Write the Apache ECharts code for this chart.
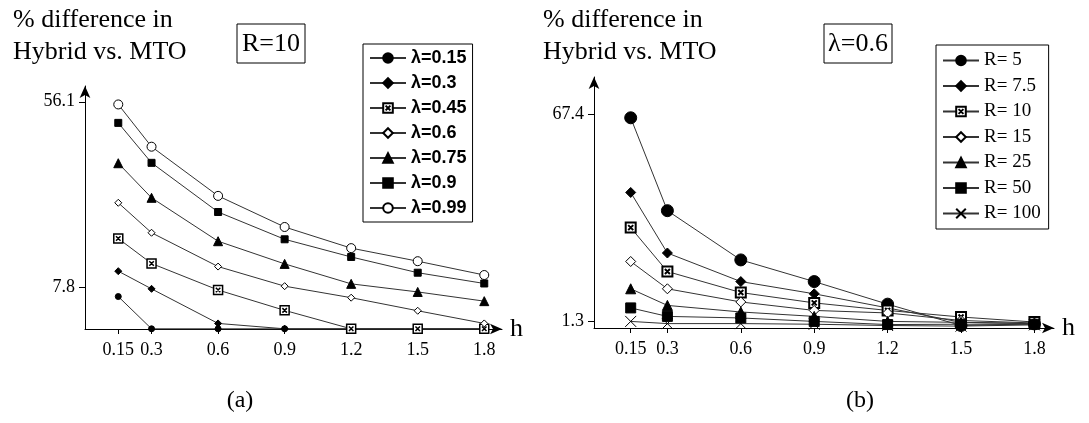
<!DOCTYPE html>
<html><head><meta charset="utf-8">
<script src="https://cdn.jsdelivr.net/npm/echarts@6/dist/echarts.min.js"></script>
<style>html,body{margin:0;padding:0;background:#fff}#c{width:1089px;height:423px}</style>
</head><body><div id="c"></div>
<script>
// ---- data ----
const hValues = [0.15, 0.3, 0.6, 0.9, 1.2, 1.5, 1.8];
const leftYTicks = [56.1, 7.8];
const rightYTicks = [67.4, 1.3];

const leftNames = ['λ=0.15', 'λ=0.3', 'λ=0.45', 'λ=0.6', 'λ=0.75', 'λ=0.9', 'λ=0.99'];
const lam015 = [5.4, -3.0, -3.0, -3.0, -3.0, -3.0, -3.0];
const lam030 = [12.0, 7.4, -1.6, -3.0, -3.0, -3.0, -3.0];
const lam045 = [20.5, 14.0, 7.1, 1.8, -3.0, -3.0, -3.0];
const lam060 = [29.8, 22.0, 13.2, 8.1, 5.1, 1.7, -1.6];
const lam075 = [40.1, 31.1, 19.8, 13.9, 8.7, 6.6, 4.2];
const lam090 = [50.6, 40.2, 27.4, 20.3, 15.7, 11.6, 8.8];
const lam099 = [55.4, 44.4, 31.6, 23.5, 18.0, 14.6, 11.0];

const rightNames = ['R= 5', 'R= 7.5', 'R= 10', 'R= 15', 'R= 25', 'R= 50', 'R= 100'];
const r5 = [66.2, 36.6, 20.9, 14.0, 6.8, 0.0, 0.5];
const r7_5 = [42.4, 23.1, 14.0, 10.1, 5.6, 1.0, 0.6];
const r10 = [31.2, 17.2, 10.5, 7.2, 4.8, 2.7, 1.1];
const r15 = [20.4, 11.7, 7.5, 4.8, 4.0, 1.6, 0.8];
const r25 = [11.7, 6.4, 4.3, 2.9, 1.3, 1.0, 0.6];
const r50 = [5.6, 2.9, 2.4, 1.3, 0.3, 0.4, 0.4];
const r100 = [1.3, 0.6, 0.6, 0.4, 0.0, -0.2, 0.2];

// ---- styles ----
const SERIF = '"Liberation Serif", "DejaVu Serif", serif';
const SANS = '"Liberation Sans Narrow", "Liberation Sans", Arial, sans-serif';
const LINE = '#333';
const boxX = 'path://M0,0L10,0L10,10L0,10Z M2.5,2.5L7.5,7.5 M7.5,2.5L2.5,7.5';
const cross = 'path://M0,0L10,10M10,0L0,10';

function mk(name, arr, grid, symbol, size, fill, extra) {
  return Object.assign({
    name: name, type: 'line', xAxisIndex: grid, yAxisIndex: grid,
    data: hValues.map((h, i) => [h, arr[i]]),
    symbol: symbol, symbolSize: size, showSymbol: true,
    lineStyle: { color: LINE, width: 1 },
    itemStyle: { color: fill, borderColor: '#000', borderWidth: 1 },
    emphasis: { disabled: true }, silent: true, clip: false
  }, extra || {});
}

const series = [
  mk(leftNames[0], lam015, 0, 'circle', 6, '#000'),
  mk(leftNames[1], lam030, 0, 'diamond', 7, '#000'),
  mk(leftNames[2], lam045, 0, boxX, 9, '#fff', { itemStyle: { color: '#fff', borderColor: '#000', borderWidth: 1.5 } }),
  mk(leftNames[3], lam060, 0, 'diamond', 7, '#fff'),
  mk(leftNames[4], lam075, 0, 'triangle', 9, '#000'),
  mk(leftNames[5], lam090, 0, 'rect', 7, '#000'),
  mk(leftNames[6], lam099, 0, 'circle', 9, '#fff'),
  mk(rightNames[0], r5, 1, 'circle', 12, '#000'),
  mk(rightNames[1], r7_5, 1, 'diamond', 10, '#000'),
  mk(rightNames[2], r10, 1, boxX, 10, '#fff', { itemStyle: { color: '#fff', borderColor: '#000', borderWidth: 2 } }),
  mk(rightNames[3], r15, 1, 'diamond', 10, '#fff'),
  mk(rightNames[4], r25, 1, 'triangle', 10, '#000'),
  mk(rightNames[5], r50, 1, 'rect', 10, '#000'),
  mk(rightNames[6], r100, 1, cross, 11, 'none', { itemStyle: { color: 'none', borderColor: '#000', borderWidth: 1 } })
];

function xAx(grid, max) {
  return {
    gridIndex: grid, type: 'value', min: 0, max: max,
    name: 'h', nameLocation: 'end', nameGap: 8,
    nameTextStyle: { fontFamily: SERIF, fontSize: 26, color: '#000' },
    axisLine: { onZero: false, symbol: ['none', 'arrow'], symbolSize: [8, 12], lineStyle: { color: '#000', width: 1 } },
    axisTick: { customValues: hValues, length: 5, lineStyle: { color: '#000' } },
    axisLabel: { customValues: hValues, formatter: v => String(v), fontFamily: SERIF, fontSize: 18, color: '#000', margin: 12 },
    splitLine: { show: false }
  };
}
function yAx(grid, min, max, ticks) {
  return {
    gridIndex: grid, type: 'value', min: min, max: max,
    axisLine: { show: true, onZero: false, symbol: ['none', 'arrow'], symbolSize: [8, 12], lineStyle: { color: '#000', width: 1 } },
    axisTick: { show: true, customValues: ticks, length: 6, lineStyle: { color: '#000' } },
    axisLabel: { customValues: ticks, formatter: v => v.toFixed(1), fontFamily: SERIF, fontSize: 18, color: '#000', margin: 10 },
    splitLine: { show: false }
  };
}

const option = {
  animation: false,
  backgroundColor: '#fff',
  grid: [
    { left: 85, top: 86, width: 417, height: 243 },
    { left: 594, top: 77, width: 460, height: 251 }
  ],
  xAxis: [xAx(0, 1.88), xAx(1, 1.88)],
  yAxis: [yAx(0, -3.05, 60.2, leftYTicks), yAx(1, -0.8, 79.2, rightYTicks)],
  legend: [
    {
      data: leftNames, left: 363, top: 44, orient: 'vertical',
      borderColor: '#000', borderWidth: 1, padding: [5, 6, 5, 6],
      itemWidth: 36, itemHeight: 12, itemGap: 7, selectedMode: false,
      textStyle: { fontFamily: SANS, fontSize: 18, fontWeight: 'bold', color: '#000', lineHeight: 18 }
    },
    {
      data: rightNames, left: 936, top: 45, orient: 'vertical',
      borderColor: '#000', borderWidth: 1, padding: [6, 8, 6, 6],
      itemWidth: 36, itemHeight: 12, itemGap: 6.5, selectedMode: false,
      textStyle: { fontFamily: SERIF, fontSize: 19, color: '#000', lineHeight: 18 }
    }
  ],
  graphic: [
    { type: 'text', left: 13, top: 4, style: { text: '% difference in\nHybrid vs. MTO', fontFamily: SERIF, fontSize: 26, lineHeight: 32, fill: '#000' } },
    { type: 'text', left: 543, top: 4, style: { text: '% difference in\nHybrid vs. MTO', fontFamily: SERIF, fontSize: 26, lineHeight: 32, fill: '#000' } },
    { type: 'rect', shape: { x: 237, y: 24, width: 68, height: 39 }, style: { fill: 'none', stroke: '#000', lineWidth: 1 } },
    { type: 'text', x: 271, y: 44, style: { text: 'R=10', fontFamily: SERIF, fontSize: 26, fill: '#000', align: 'center', verticalAlign: 'middle' } },
    { type: 'rect', shape: { x: 824, y: 24, width: 68, height: 39 }, style: { fill: 'none', stroke: '#000', lineWidth: 1 } },
    { type: 'text', x: 858, y: 44, style: { text: 'λ=0.6', fontFamily: SERIF, fontSize: 26, fill: '#000', align: 'center', verticalAlign: 'middle' } },
    { type: 'text', x: 240, y: 401, style: { text: '(a)', fontFamily: SERIF, fontSize: 24, fill: '#000', align: 'center', verticalAlign: 'middle' } },
    { type: 'text', x: 860, y: 401, style: { text: '(b)', fontFamily: SERIF, fontSize: 24, fill: '#000', align: 'center', verticalAlign: 'middle' } }
  ],
  series: series
};
echarts.init(document.getElementById('c'), null, { renderer: 'canvas' }).setOption(option);
</script></body></html>
